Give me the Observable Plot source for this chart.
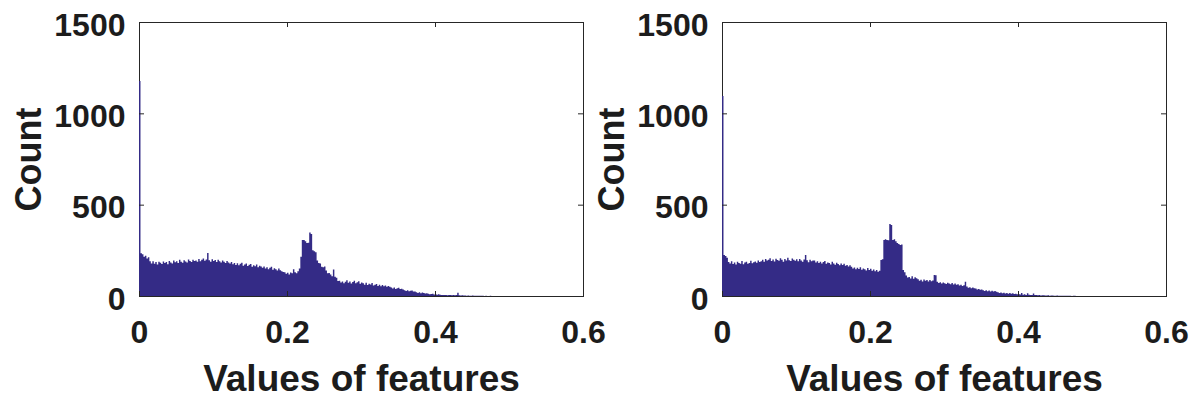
<!DOCTYPE html>
<html>
<head>
<meta charset="utf-8">
<script src="https://cdn.jsdelivr.net/npm/d3@7"></script>
<script src="https://cdn.jsdelivr.net/npm/@observablehq/plot@0.6"></script>
<style>
  html, body { margin: 0; padding: 0; background: #fff; }
  #charts { display: flex; width: 1198px; height: 401px; }
</style>
</head>
<body>
<div id="charts"></div>
<script>
// Histogram bin counts (bin width 0.002, starting at 0)
const binWidth = 0.002;

const countsLeft = [
  1177,
  234, 228, 215, 220, 205, 212, 190,
  178, 190, 176, 186, 172, 188, 182, 175, 189, 180, 186, 174, 191, 183, 178, 194,
  185, 190, 181, 198, 187, 182, 196, 189, 184, 200, 192, 186, 199, 191, 195, 188,
  202, 190, 198, 205, 193, 200, 235, 196, 188, 201, 192, 197, 186, 199, 190, 184,
  195, 187, 181, 192, 183, 178,
  186, 174, 181, 170, 179, 168, 176, 182, 166, 173, 178, 164, 171, 175, 160, 169,
  163, 172, 158, 166, 161, 155,
  162, 150, 158, 147, 155, 160, 144, 152, 146, 139, 150, 141, 136, 132,
  130, 122, 127, 118, 128, 124, 146, 130, 125, 136, 150,
  215, 306, 306, 300, 290, 292, 347, 340, 250, 245, 240, 195, 180, 178, 160, 158, 162,
  140, 124, 126, 118, 108, 145, 106, 100, 82,
  84, 74, 80, 70, 78, 86, 72, 79, 68, 76, 83, 70, 75, 81, 67, 74,
  70, 62, 72, 60, 67, 63, 71, 58, 61, 66, 55, 62, 53, 60, 54, 58, 50, 55, 51,
  47, 41, 46, 39, 43, 45, 38, 40, 35,
  31, 27, 32, 26, 29, 30, 24, 25,
  21, 17, 20, 15, 19, 16, 14, 15,
  12, 10, 11, 13, 8, 10, 7, 9,
  7, 6, 5, 6, 5, 4, 5, 6, 4, 5, 4, 5, 18, 4, 3, 4, 3, 3, 2, 3, 2, 2, 3, 2, 1, 2, 1, 1,
  1, 1, 0, 1, 0, 0, 1, 0, 0
];

const countsRight = [
  1095,
  224, 219, 210,
  186, 178, 190, 175, 184, 172, 188, 180, 176, 191, 174, 183, 187, 177, 181, 193,
  179, 185, 189, 182, 194, 186,
  190, 199, 187, 203, 194, 198, 206, 192, 200, 189, 204, 197, 193, 207, 199, 188,
  202, 195, 209, 196, 191, 205, 198, 193, 201, 190, 203, 195, 188, 200, 224, 196,
  185, 199, 190, 194,
  195, 183, 190, 180, 188, 178, 186, 192, 176, 184, 180, 173, 187, 178, 171, 182,
  175, 169, 178, 170,
  176, 165, 170, 162, 168,
  160, 150, 156, 146, 155, 148, 158, 144, 151, 147, 140, 153, 143, 149, 138, 145,
  136, 142, 133, 138,
  197, 201, 306, 310, 306, 305, 394, 389, 306, 310, 300, 290, 285, 279, 282, 142, 130,
  112, 101, 104, 96, 108, 94, 102, 97,
  92, 83, 89, 80, 91, 84, 88, 79, 87, 81, 85,
  115, 113,
  78, 71, 75, 68, 74, 70, 66, 73, 69, 64, 71, 63, 68, 62,
  64, 57, 61, 55, 59,
  78,
  52, 45, 48, 43, 47, 42,
  41, 35, 38, 34, 36,
  32, 27, 31, 26, 30, 25, 29, 24, 27, 23,
  21, 16, 19, 15, 18, 14, 17, 13, 16, 12, 15, 11,
  12, 9, 11, 8, 16, 7, 9, 6, 15, 7, 5, 6, 14, 5,
  5, 4, 5, 3, 4, 4, 3, 3, 4, 2, 3, 3, 2, 2, 3, 2, 1, 2, 2, 1, 1, 2, 1, 1, 0, 1, 1, 0
];

const xTicks = [0, 0.2, 0.4, 0.6];
const yTicks = [0, 500, 1000, 1500];
const xLabel = "Values of features";
const yLabel = "Count";

const barColor = "#342b86";
const inkColor = "#262626";
const textColor = "#1c1c1c";
const fontFamily = "'Liberation Sans', Arial, Helvetica, sans-serif";

const frameW = 444, frameH = 274, tickLen = 5;

function histogram(counts, marginLeft, marginRight) {
  // Each bin becomes a flat step (left edge and right edge at the same count),
  // so the whole histogram is one seamless filled shape from the zero baseline.
  const steps = counts.flatMap((c, i) => [
    {x: i * binWidth, count: c},
    {x: (i + 1) * binWidth, count: c}
  ]);
  return Plot.plot({
    width: 599,
    height: 401,
    marginTop: 22,
    marginBottom: 105,
    marginLeft,
    marginRight,
    style: {overflow: "visible", fontFamily, color: textColor, background: "transparent"},
    x: {domain: [0, 0.6]},
    y: {domain: [0, 1500]},
    marks: [
      Plot.frame({stroke: inkColor, strokeWidth: 1}),
      Plot.areaY(steps, {x: "x", y1: () => 0, y2: "count", fill: barColor}),
      // inward tick marks on all four sides
      Plot.tickX(xTicks, {x: d => d, insetTop: frameH - tickLen, stroke: inkColor}),
      Plot.tickX(xTicks, {x: d => d, insetBottom: frameH - tickLen, stroke: inkColor}),
      Plot.tickY(yTicks, {y: d => d, insetRight: frameW - tickLen, stroke: inkColor}),
      Plot.tickY(yTicks, {y: d => d, insetLeft: frameW - tickLen, stroke: inkColor}),
      Plot.axisX(xTicks, {
        tickSize: 0, tickPadding: 24, fontSize: 32, fontWeight: "bold",
        tickFormat: d => String(d), label: null
      }),
      Plot.axisY(yTicks, {
        tickSize: 0, tickPadding: 14, dy: 3, fontSize: 32, fontWeight: "bold",
        tickFormat: d => String(d), label: null
      }),
      Plot.text([xLabel], {
        frameAnchor: "bottom", textAnchor: "middle", lineAnchor: "bottom", dy: 94,
        text: d => d, fontSize: 37, fontWeight: "bold", fill: textColor
      }),
      Plot.text([yLabel], {
        frameAnchor: "left", textAnchor: "middle", lineAnchor: "bottom", rotate: -90, dx: -99,
        text: d => d, fontSize: 36, fontWeight: "bold", fill: textColor
      })
    ]
  });
}

const host = document.getElementById("charts");
host.append(histogram(countsLeft, 139, 16));
host.append(histogram(countsRight, 123, 32));
</script>
</body>
</html>
